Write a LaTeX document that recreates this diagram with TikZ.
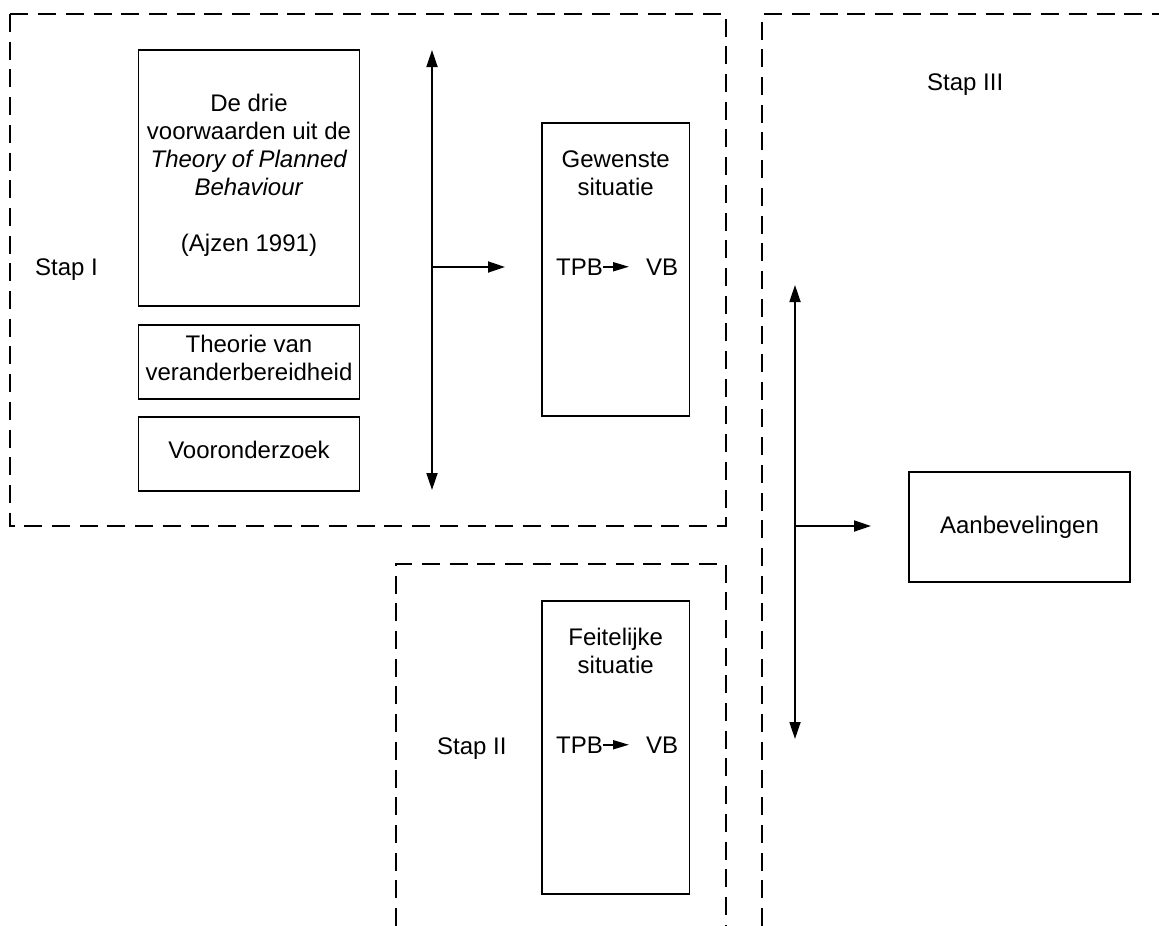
\documentclass[tikz,border=0pt]{standalone}
\usepackage{fontspec}
\setmainfont{Liberation Sans}
\usetikzlibrary{arrows.meta}
\begin{document}
\begin{tikzpicture}[x=1pt,y=-1pt,
  font=\fontsize{24}{28}\selectfont,
  box/.style={draw, line width=1.6pt, inner sep=0pt},
  lbl/.style={inner sep=0pt, align=center},
  phase/.style={draw, line width=1.8pt, line cap=butt, dash pattern=on 18pt off 9.7pt},
  link/.style={line width=1.8pt, -{Triangle[length=17pt,width=11pt]}},
  duplex/.style={line width=1.8pt, {Triangle[length=17pt,width=11pt]}-{Triangle[length=17pt,width=11pt]}},
  tiny/.style={line width=1.8pt, -{Triangle[length=16pt,width=9pt]}},
]
\fill[white] (0,0) rectangle (1159,926);
\useasboundingbox (0,0) rectangle (1159,926);

% dashed phase frames
\draw[phase] (10,14) rectangle (726,526);
\draw[phase] (396,926) -- (396,564) -- (726,564) -- (726,926);
\draw[phase] (762,926) -- (762,14) -- (1159,14);

% phase labels
\node[lbl, anchor=base west] (stap1) at (35,275) {Stap I};
\node[lbl, anchor=base west] (stap2) at (437,754) {Stap II};
\node[lbl, anchor=base west] (stap3) at (927,90) {Stap III};

% step I inputs
\node[box, minimum width=221pt, minimum height=256pt] (tpb) at (249,178) {};
\node[lbl] (tpbtxt) at (249,175.6) {De drie\\voorwaarden uit de\\\textit{Theory of Planned}\\\textit{Behaviour}\\[28pt](Ajzen 1991)};
\node[box, minimum width=221pt, minimum height=74pt] (vb) at (249,362) {};
\node[lbl] (vbtxt) at (249,358.3) {Theorie van\\veranderbereidheid};
\node[box, minimum width=221pt, minimum height=74pt] (vo) at (249,454) {};
\node[lbl] (votxt) at (249,449.5) {Vooronderzoek};

% desired situation
\node[box, minimum width=147.5pt, minimum height=293pt] (gew) at (615.75,269.5) {};
\node[lbl] (gewtxt) at (615.75,173.3) {Gewenste\\situatie};
\node[lbl, anchor=base west] (gtpb) at (556,275) {TPB};
\node[lbl, anchor=base west] (gvb) at (646,275) {VB};
\draw[tiny] (gtpb.east) -- ([xshift=-17pt]gvb.west |- gtpb.east);

% actual situation
\node[box, minimum width=147.5pt, minimum height=293pt] (feit) at (615.75,747.5) {};
\node[lbl] (feittxt) at (615.75,651.3) {Feitelijke\\situatie};
\node[lbl, anchor=base west] (ftpb) at (556,753) {TPB};
\node[lbl, anchor=base west] (fvb) at (646,753) {VB};
\draw[tiny] (ftpb.east) -- ([xshift=-17pt]fvb.west |- ftpb.east);

% recommendations
\node[box, minimum width=221pt, minimum height=110pt] (aan) at (1019.5,527) {Aanbevelingen};

% connectors of step I
\coordinate (s1top) at (432,50);
\coordinate (s1bot) at (432,490);
\coordinate (s1mid) at (432,267);
\coordinate (s1end) at (505,267);
\draw[duplex] (s1top) -- (s1bot);
\draw[link] (s1mid) -- (s1end);

% connectors of step III
\coordinate (s3top) at (795,285);
\coordinate (s3bot) at (795,739);
\coordinate (s3mid) at (795,526);
\coordinate (s3end) at (871,526);
\draw[duplex] (s3top) -- (s3bot);
\draw[link] (s3mid) -- (s3end);
\end{tikzpicture}
\end{document}
